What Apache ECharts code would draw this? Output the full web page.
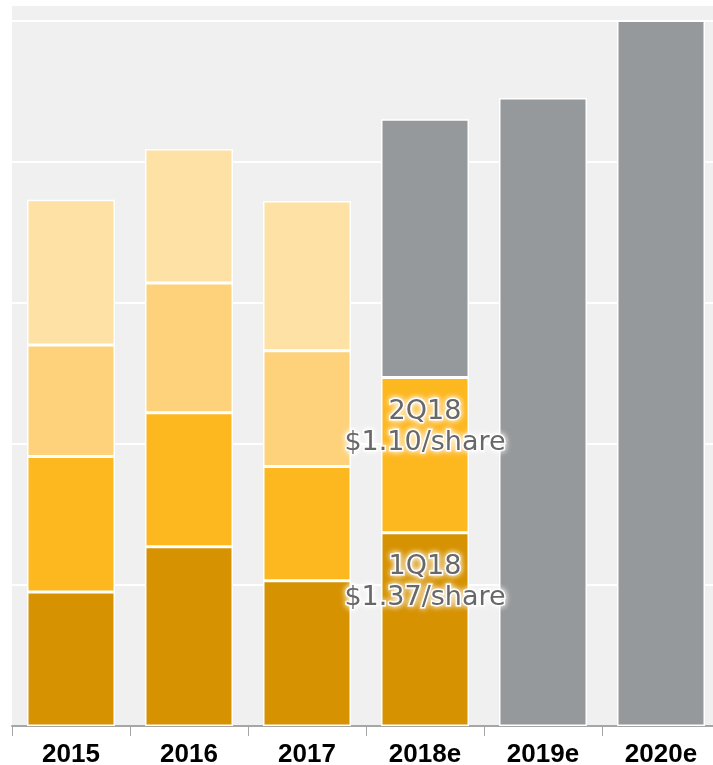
<!DOCTYPE html>
<html>
<head>
<meta charset="utf-8">
<script src="https://cdn.jsdelivr.net/npm/echarts@6/dist/echarts.min.js"></script>
<style>
  html, body { margin: 0; padding: 0; background: #fff; }
  #chart { width: 713px; height: 765px; }
</style>
</head>
<body>
<div id="chart"></div>
<script>
var years = ['2015', '2016', '2017', '2018e', '2019e', '2020e'];
// quarterly earnings per share, stacked
var q1 = [0.95, 1.27, 1.03, 1.37, null, null];
var q2 = [0.96, 0.95, 0.81, 1.10, null, null];
var q3 = [0.79, 0.92, 0.82, null, null, null];
var q4 = [1.03, 0.95, 1.06, null, null, null];
// estimate (remainder for 2018e, full year afterwards)
var est = [null, null, null, 1.83, 4.45, 5.00];
var q1Labels = ['', '', '', '1Q18\n$1.37/share', '', ''];
var q2Labels = ['', '', '', '2Q18\n$1.10/share', '', ''];

var labelStyle = {
    show: true,
    position: 'insideTop',
    distance: 19,
    color: '#686868',
    fontFamily: '"DejaVu Sans", sans-serif',
    fontSize: 27,
    lineHeight: 31,
    textBorderColor: '#fff',
    textBorderWidth: 3,
    textShadowColor: '#fff',
    textShadowBlur: 6
};

function withLabels(values, labels) {
    return values.map(function (v, i) {
        if (labels[i]) {
            return { value: v, label: Object.assign({}, labelStyle, { formatter: labels[i] }) };
        }
        return v;
    });
}

function bar(name, data, color) {
    return {
        name: name,
        type: 'bar',
        stack: 'eps',
        barWidth: 88,
        data: data,
        itemStyle: { color: color, borderColor: '#fff', borderWidth: 1.5 },
        emphasis: { disabled: true },
        z: 3
    };
}

var chart = echarts.init(document.getElementById('chart'));
chart.setOption({
    animation: false,
    grid: {
        left: 12,
        width: 708,
        top: 5,
        bottom: 39,
        outerBoundsMode: 'none',
        containLabel: false,
        show: true,
        backgroundColor: '#f0f0f0',
        borderWidth: 0
    },
    xAxis: {
        type: 'category',
        data: years,
        axisLine: { show: true, lineStyle: { color: '#a6a6a6', width: 2 } },
        axisTick: { show: true, length: 10, lineStyle: { color: '#a6a6a6' } },
        axisLabel: {
            color: '#000',
            fontFamily: '"Liberation Sans", Arial, sans-serif',
            fontWeight: 'bold',
            fontSize: 26,
            margin: 16
        }
    },
    yAxis: {
        type: 'value',
        min: 0,
        max: 5.11,
        interval: 1,
        axisLabel: { show: false },
        axisLine: { show: false },
        axisTick: { show: false },
        splitLine: { show: true, lineStyle: { color: '#fff', width: 2 } }
    },
    series: [
        bar('Q1', withLabels(q1, q1Labels), '#d69200'),
        bar('Q2', withLabels(q2, q2Labels), '#fdb71f'),
        bar('Q3', q3, '#fdd27a'),
        bar('Q4', q4, '#fee1a4'),
        bar('Estimate', est, '#96999b')
    ]
});
</script>
</body>
</html>
